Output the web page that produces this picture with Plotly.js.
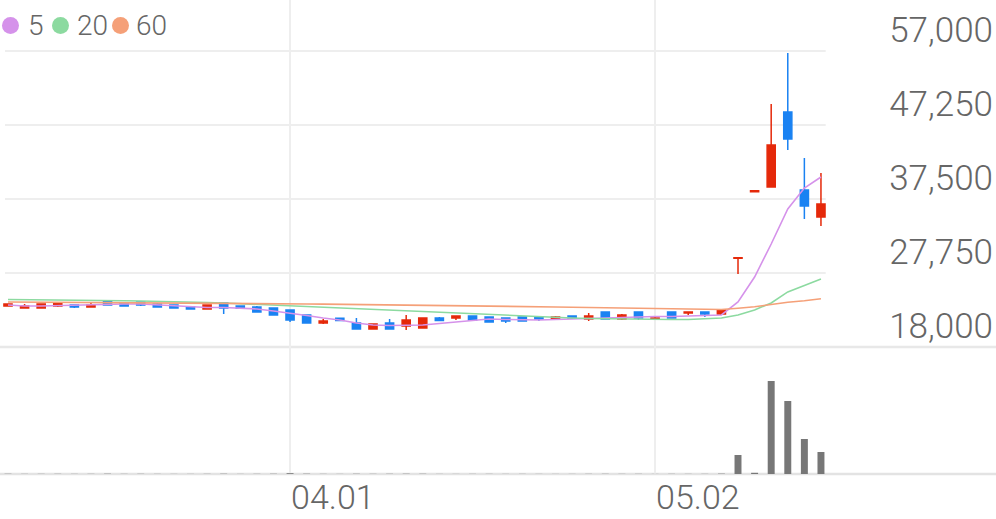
<!DOCTYPE html>
<html><head><meta charset="utf-8">
<script src="https://cdn.plot.ly/plotly-3.0.1.min.js"></script>
<style>html,body{margin:0;padding:0;background:#fff;}#chart{width:996px;height:519px;}</style>
</head><body><div id="chart"></div>
<script>
// ---- data ----
const openP  = [23400,23140,23140,23400,23530,23270,24060,23800,23930,23670,23530,23270,23010,23800,23400,23270,23140,22875,22220,21160,21800,21160,20370,21160,20770,20500,21820,21820,22085,21950,21820,21950,21950,21690,22085,21690,22610,21690,22610,21690,22610,22480,22610,22350,29700,38450,39080,48960,38690,35130];
const highP  = [23730,23670,23670,23800,23600,23800,24060,23800,23930,23800,23530,23270,23530,23800,23400,23400,23140,22875,22220,21690,21820,21820,21030,21690,22220,21820,21950,22150,22085,21950,21820,21950,21950,22085,22150,22480,22610,22350,22610,21950,22610,22610,22610,22900,29750,38600,50020,56740,42900,40930];
const lowP   = [23350,23140,23140,23270,23140,23270,23530,23400,23400,23270,23140,23010,23010,22350,23010,22610,22220,21290,21160,21030,21430,20370,20370,20370,20240,20500,21430,21560,21560,21300,21160,21430,21430,21560,21690,21430,21690,21560,21560,21560,21820,22220,21950,22220,27620,38450,38980,43960,34870,33940];
const closeP = [23650,23400,23670,23800,23270,23530,23530,23400,23530,23270,23140,23010,23530,23140,23100,22610,22220,21560,21160,21430,21500,20370,21030,20370,21560,21820,21500,22085,21560,21300,21430,21430,21690,21950,21820,22085,21690,22220,21820,21820,21820,22610,22350,22900,29750,38600,44620,45400,36580,36840];
const ma5  = [23530,23400,23400,23470,23470,23530,23670,23670,23660,23530,23400,23270,23200,23200,23140,23010,22740,22480,22150,21820,21560,21160,20900,20830,20830,20900,21100,21290,21560,21690,21620,21560,21560,21620,21690,21750,21890,21950,22020,22020,22020,22080,22150,22220,23930,27220,31570,36180,38950,40400];
const ma20 = [24260,24250,24230,24220,24190,24165,24130,24090,24060,24035,24000,23930,23865,23800,23705,23600,23510,23400,23300,23205,23110,23005,22915,22810,22715,22610,22520,22415,22320,22215,22125,22020,21955,21885,21820,21755,21715,21690,21665,21625,21625,21625,21690,21820,22215,22875,23800,25250,26100,26960];
const ma60 = [23930,23920,23905,23895,23880,23870,23860,23845,23835,23820,23810,23800,23785,23775,23760,23740,23715,23690,23665,23640,23620,23595,23570,23545,23520,23500,23475,23450,23425,23400,23370,23340,23305,23270,23240,23205,23170,23140,23105,23075,23040,23010,22975,22945,23100,23300,23600,23900,24100,24350];
const volume = [12000,8000,9000,10000,7000,9000,15000,8000,10000,7000,6000,6000,9000,14000,6000,9000,12000,40000,15000,8000,6000,12000,9000,11000,14000,12000,6000,5000,7000,8000,6000,7000,6000,5000,6000,9000,10000,8000,9000,5000,9000,7000,8000,18000,950000,60000,4650000,3650000,1750000,1100000];
const priceTicks = [18000,27750,37500,47250,57000];
const dateTickIdx = [17,39];
const dateTickText = ['04.01','05.02'];
const maNames = ['5','20','60'];
const maColors = ['#d592ea','#8cdaa0','#f5a078'];

// ---- chart ----
const xs = openP.map((_, i) => i);
const RED = '#e5290a', BLUE = '#1a82f2';
const baseFont = {family:'Roboto', color:'#666666', weight:300};

const traces = [
  {type:'candlestick', x:xs, open:openP, high:highP, low:lowP, close:closeP,
   xaxis:'x', yaxis:'y', hoverinfo:'skip', showlegend:false,
   increasing:{line:{color:RED, width:1.5}, fillcolor:RED},
   decreasing:{line:{color:BLUE, width:1.5}, fillcolor:BLUE}},
];
[ma5, ma20, ma60].forEach((arr, k) => traces.push({
  type:'scatter', mode:'lines', x:xs, y:arr, xaxis:'x', yaxis:'y',
  line:{color:maColors[k], width:1.6}, showlegend:false, hoverinfo:'skip'
}));
traces.push({type:'bar', x:xs, y:volume, xaxis:'x', yaxis:'y2', width:0.42,
  marker:{color:'#777777'}, showlegend:false, hoverinfo:'skip'});

const PH = 474; // plot-area height in px
const shapes = [];
priceTicks.slice(1).forEach(v => shapes.push({type:'line', xref:'paper', yref:'y',
  x0:0.005, x1:0.829, y0:v, y1:v, layer:'below', line:{color:'#eeeeee', width:2}}));
shapes.push({type:'line', xref:'paper', yref:'paper', x0:0, x1:1, y0:0.268, y1:0.268,
  layer:'below', line:{color:'#e8e8e8', width:2.5}});
shapes.push({type:'line', xref:'paper', yref:'paper', x0:0, x1:1, y0:0, y1:0,
  layer:'below', line:{color:'#e3e3e3', width:2.5}});

const annotations = [];
const legendX = [2, 52, 112];
const legendTextX = [26, 75, 134];
maNames.forEach((n, k) => {
  shapes.push({type:'circle', xref:'paper', yref:'paper',
    x0:legendX[k]/996, x1:(legendX[k]+17)/996, y0:1-34/PH, y1:1-17/PH,
    fillcolor:maColors[k], line:{width:0}});
  annotations.push({xref:'paper', yref:'paper', x:legendTextX[k]/996, y:1-25.5/PH,
    xanchor:'left', yanchor:'middle', showarrow:false, text:n,
    font:Object.assign({}, baseFont, {size:28})});
});

const layout = {
  width:996, height:519, margin:{l:0, r:0, t:0, b:45},
  paper_bgcolor:'#ffffff', plot_bgcolor:'#ffffff', showlegend:false,
  font:baseFont,
  xaxis:{domain:[0,1], range:[-0.482, 59.55], anchor:'y2',
    tickmode:'array', tickvals:dateTickIdx, ticktext:dateTickText,
    showgrid:true, gridcolor:'#eeeeee', gridwidth:1.5, zeroline:false, showline:false,
    ticks:'', ticklabelposition:'outside right', ticklabelstandoff:0, ticklabelshift:1,
    tickfont:Object.assign({}, baseFont, {size:34}),
    rangeslider:{visible:false}, fixedrange:true},
  yaxis:{domain:[0.268,1], range:[18000, 63720], side:'right', anchor:'x',
    tickmode:'array', tickvals:priceTicks, tickformat:',d',
    showgrid:false, zeroline:false, showline:false, ticks:'',
    ticklabelposition:'inside top', ticklabelshift:3,
    tickfont:Object.assign({}, baseFont, {size:35})},
  yaxis2:{domain:[0,0.268], range:[0, 6350000], anchor:'x',
    showticklabels:false, showgrid:false, zeroline:false, showline:false},
  shapes:shapes, annotations:annotations
};

Plotly.newPlot('chart', traces, layout, {staticPlot:true, displayModeBar:false});
</script>
</body></html>
